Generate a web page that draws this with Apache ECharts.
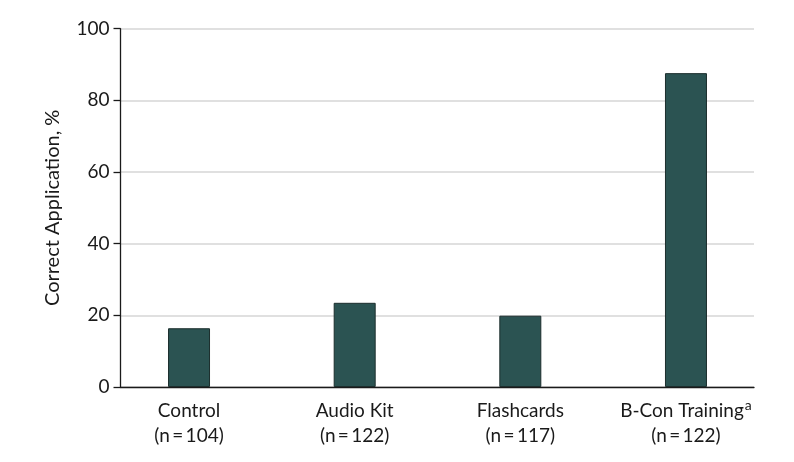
<!DOCTYPE html>
<html>
<head>
<meta charset="utf-8">
<script src="https://cdn.jsdelivr.net/npm/echarts@6/dist/echarts.min.js"></script>
<style>
html,body{margin:0;padding:0;background:#fff;}
#main{width:794px;height:462px;}
</style>
</head>
<body>
<div id="main"></div>
<script>
var categories = ['Control', 'Audio Kit', 'Flashcards', 'B-Con Training'];
var sampleSizes = ['n\u2009=\u2009104', 'n\u2009=\u2009122', 'n\u2009=\u2009117', 'n\u2009=\u2009122'];
var footnotes = ['', '', '', 'a'];
var correctPct = [16.4, 23.5, 19.9, 87.6];
var yTicks = [0, 20, 40, 60, 80, 100];
var yAxisTitle = 'Correct Application, %';

var FONT = 'Lato, "Noto Sans", sans-serif';
var chart = echarts.init(document.getElementById('main'));
chart.setOption({
  animation: false,
  backgroundColor: '#ffffff',
  grid: [
    {left: 120.5, right: 40, top: 28.7, bottom: 75},
    {left: 106.2, right: 25.2, top: 28.7, bottom: 75}
  ],
  xAxis: [
    {
      type: 'category', gridIndex: 0, data: categories,
      axisLine: {show: true, lineStyle: {color: '#1a1a1a', width: 1.3}},
      axisTick: {show: false}, axisLabel: {show: false}, splitLine: {show: false}
    },
    {
      type: 'category', gridIndex: 1, data: categories,
      axisLine: {show: false}, axisTick: {show: false},
      axisLabel: {
        show: true, margin: 11, interval: 0,
        formatter: function (v, i) {
          var s = v + (footnotes[i] ? '{sup|' + footnotes[i] + '}' : '');
          return s + '\n(' + sampleSizes[i] + ')';
        },
        fontFamily: FONT, fontSize: 19, color: '#1a1a1a', lineHeight: 25,
        rich: {sup: {fontSize: 14, verticalAlign: 'top', padding: [0, 0, 7, 1], fontFamily: FONT, color: '#1a1a1a'}}
      }
    }
  ],
  yAxis: [
    {
      type: 'value', gridIndex: 0, min: yTicks[0], max: yTicks[yTicks.length - 1], interval: 20,
      name: yAxisTitle, nameLocation: 'middle', nameGap: 58,
      nameTextStyle: {fontFamily: FONT, fontSize: 20, color: '#1a1a1a'},
      axisLine: {show: true, lineStyle: {color: '#1a1a1a', width: 1.3}},
      axisTick: {show: true, inside: false, length: 7, lineStyle: {color: '#1a1a1a', width: 1.3}},
      axisLabel: {fontFamily: FONT, fontSize: 19, color: '#1a1a1a', margin: 11},
      splitLine: {show: true, lineStyle: {color: '#d6d6d6', width: 1.5}}
    },
    {
      type: 'value', gridIndex: 1, min: yTicks[0], max: yTicks[yTicks.length - 1],
      show: false, splitLine: {show: false}
    }
  ],
  series: [{
    type: 'bar', xAxisIndex: 1, yAxisIndex: 1,
    data: correctPct, barWidth: 42,
    itemStyle: {color: '#2b5352', borderColor: '#1c2e2d', borderWidth: 1}
  }]
});
</script>
</body>
</html>
